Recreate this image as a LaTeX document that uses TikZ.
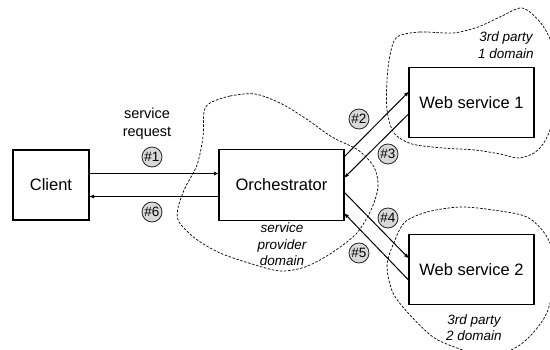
\documentclass[tikz,border=0pt]{standalone}
\usepackage{fontspec}
\setmainfont{Liberation Sans}
\usetikzlibrary{arrows.meta,positioning,calc}

\begin{document}
\begin{tikzpicture}[x=1pt, y=1pt,
    box/.style={draw, fill=white, line width=1.9pt, minimum width=125pt, minimum height=70pt, outer sep=0pt, font=\fontsize{16.5}{19}\selectfont},
    arrow/.style={-{Latex[length=5pt,width=4pt]}, line width=1pt},
    tag/.style={circle, draw=black!85, fill=black!15, line width=0.8pt, minimum size=20pt, inner sep=0pt, font=\fontsize{13.5}{13.5}\selectfont},
    zone/.style={line width=0.7pt, dash pattern=on 2.5pt off 1.6pt},
    note/.style={align=center, font=\fontsize{13.5}{16.5}\selectfont\itshape}
]
\useasboundingbox (0,0) rectangle (550,349);

% trust domains
\begin{scope}
\clip (0,0) rectangle (550,349);
\draw[zone] plot[smooth cycle] coordinates {(210,246) (230,253) (255,255) (280,246) (305,231) (332,212) (358,199) (374,182) (378,162) (371,139) (356,115) (330,95) (305,82) (280,78) (252,85) (220,96) (196,110) (179,127) (178,141) (185,161) (197,184) (203,212) (204,237)};
\draw[zone] plot[smooth cycle] coordinates {(397,312) (420,317) (453,316) (478,322) (500,332) (522,341) (540,327) (552,304) (558,259) (550,219) (538,199) (520,191) (500,195) (475,199) (443,201) (412,205) (394,216) (387,239) (387,269) (390,294)};
\draw[zone] plot[smooth cycle] coordinates {(395,109) (405,127) (427,137) (460,142) (493,139) (527,132) (547,112) (556,81) (548,39) (533,16) (515,1) (488,-8) (457,1) (433,12) (410,34) (393,56) (387,84)};
\end{scope}

\node[box, minimum width=76pt] (client) at (51,164) {Client};
\node[box, minimum height=71pt, right=130pt of client] (orch) {Orchestrator};
\node[box, above right=12pt and 65pt of orch] (ws1) {Web service 1};
\node[box, below right=14pt and 65pt of orch] (ws2) {Web service 2};

\draw[arrow] ([yshift=11.5pt]client.east) -- ([yshift=11.5pt]client.east -| orch.west);
\draw[arrow] ([yshift=-11.5pt]orch.west) -- ([yshift=-11.5pt]orch.west -| client.east);
\draw[arrow] ([yshift=28pt]orch.east) -- ([yshift=11pt]ws1.west);
\draw[arrow] ([yshift=-11pt]ws1.west) -- ([yshift=7pt]orch.east);
\draw[arrow] ([yshift=-7pt]orch.east) -- ([yshift=11pt]ws2.west);
\draw[arrow] ([yshift=-11pt]ws2.west) -- ([yshift=-28pt]orch.east);

\node[tag] (t1) at (152,192) {\#1};
\node[tag] (t6) at (152,137) {\#6};
\node[tag] (t2) at (359,230) {\#2};
\node[tag] (t3) at (388,195) {\#3};
\node[tag] (t4) at (388,131) {\#4};
\node[tag] (t5) at (359,96) {\#5};

\node[align=center, font=\fontsize{14.5}{18}\selectfont] (req) at (147,225) {service\\request};
\node[note] (spd) at (282,104.5) {service\\provider\\domain};
\node[note] (d1) at (506,304) {3rd party\\1 domain};
\node[note] (d2) at (474,21.5) {3rd party\\2 domain};
\end{tikzpicture}
\end{document}
